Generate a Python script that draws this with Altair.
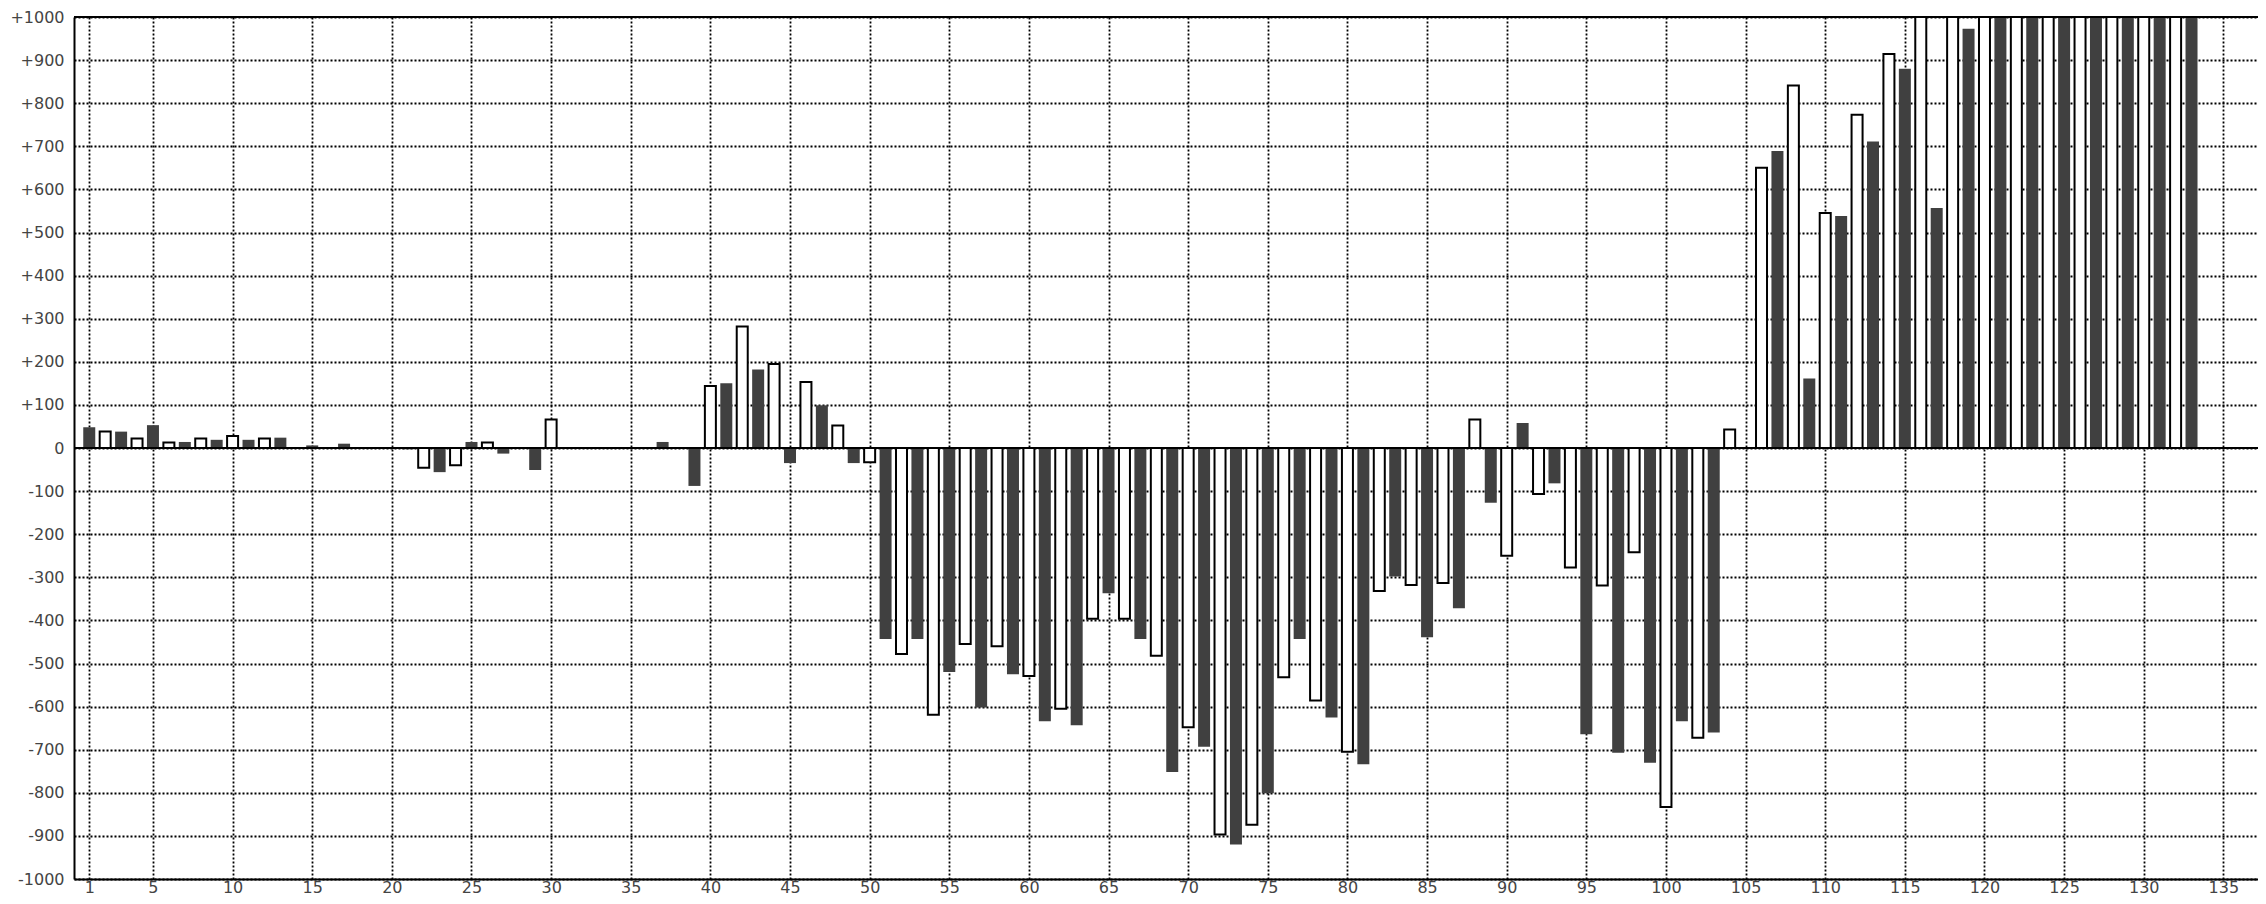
import altair as alt
import pandas as pd

# Bar values for x = 1 .. 133 (odd x = dark bars, even x = outlined white bars)
values = [
    48, 38, 38, 22, 53, 13, 14, 22, 19, 28,          # 1-10
    19, 22, 24, 0, 6, 0, 10, 0, 0, 0,                # 11-20
    -3, -46, -56, -40, 14, 13, -13, 0, -51, 66,      # 21-30
    0, 0, 0, 0, 0, 0, 14, 0, -88, 144,               # 31-40
    150, 282, 182, 195, -35, 153, 99, 52, -35, -33,  # 41-50
    -443, -478, -443, -619, -520, -455, -602, -460, -525, -529,  # 51-60
    -634, -605, -643, -396, -337, -396, -443, -482, -752, -648,  # 61-70
    -693, -897, -920, -874, -801, -532, -443, -586, -625, -705,  # 71-80
    -734, -332, -298, -318, -439, -313, -372, 66, -127, -250,    # 81-90
    58, -107, -82, -277, -664, -319, -707, -242, -730, -833,     # 91-100
    -634, -672, -660, 43, 0, 650, 689, 841, 161, 545,            # 101-110
    538, 773, 711, 914, 880, 1000, 557, 1000, 973, 1000,         # 111-120
    1000, 1000, 1000, 1000, 1000, 1000, 1000, 1000, 1000, 1000,  # 121-130
    1000, 1000, 1000,                                            # 131-133
]
xs = list(range(1, len(values) + 1))
kinds = ["dark" if x % 2 == 1 else "white" for x in xs]

x_ticks = [1] + list(range(5, 140, 5))
y_ticks = list(range(-1000, 1001, 100))

df = pd.DataFrame({"x": xs, "v": values, "kind": kinds})

x_scale = alt.Scale(domain=[0.356, 136.86], nice=False, zero=False)
y_scale = alt.Scale(domain=[-1000, 1000], nice=False)

x_axis = alt.Axis(
    values=x_ticks, format="d", title=None, grid=True, gridColor="black",
    gridDash=[2, 2], gridWidth=1.8, gridOpacity=1, ticks=False, domain=True,
    domainColor="black", domainWidth=2, labelPadding=0, labelFont="DejaVu Sans",
    labelFontSize=16, labelColor="#444", labelFlush=False, labelOverlap=False,
)
y_axis = alt.Axis(
    values=y_ticks, title=None, grid=True, gridColor="black",
    gridDash=[2, 2], gridWidth=1.8, gridOpacity=1, ticks=False, domain=True,
    domainColor="black", domainWidth=2, labelPadding=10, labelFont="DejaVu Sans",
    labelFontSize=16, labelColor="#444", labelOverlap=False,
    labelExpr="datum.value > 0 ? '+' + datum.value : '' + datum.value",
)

base = alt.Chart(df).transform_filter("datum.v != 0")

dark = base.transform_filter("datum.kind == 'dark'").mark_bar(
    size=12, color="#404040", clip=True
).encode(
    x=alt.X("x:Q", scale=x_scale, axis=x_axis),
    y=alt.Y("v:Q", scale=y_scale, axis=y_axis),
    y2=alt.datum(0),
)

white = base.transform_filter("datum.kind == 'white'").mark_bar(
    size=11, fill="white", stroke="black", strokeWidth=2, clip=True
).encode(
    x=alt.X("x:Q", scale=x_scale, axis=x_axis),
    y=alt.Y("v:Q", scale=y_scale, axis=y_axis),
    y2=alt.datum(0),
)

zero_rule = alt.Chart(df).mark_rule(color="black", strokeWidth=2).encode(
    y=alt.datum(0, scale=y_scale)
)
top_rule = alt.Chart(df).mark_rule(color="black", strokeWidth=2).encode(
    y=alt.datum(1000, scale=y_scale)
)

chart = alt.layer(dark, white, zero_rule, top_rule).properties(
    width=2184,
    height=862,
    autosize=alt.AutoSizeParams(type="none"),
    padding={"left": 66, "top": 9, "right": 0, "bottom": 17},
    background="white",
).configure_view(strokeWidth=0)

chart.save("out.html", embed_options={"renderer": "svg", "actions": False})
